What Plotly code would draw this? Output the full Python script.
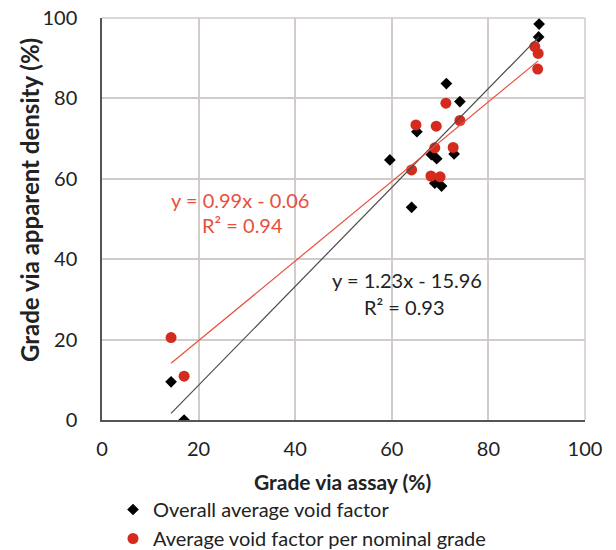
import plotly.graph_objects as go

# Overall average void factor (black diamonds)
black_x = [17.0, 14.3, 90.5, 90.4, 71.3, 74.1, 65.2, 59.6, 68.2, 69.3, 72.9, 68.9, 70.3, 64.1]
black_y = [0.0, 9.5, 98.5, 95.3, 83.7, 79.2, 71.7, 64.7, 66.0, 65.0, 66.2, 58.9, 58.2, 52.9]

# Average void factor per nominal grade (red circles)
red_x = [14.3, 17.0, 89.6, 90.3, 90.2, 71.2, 74.1, 65.0, 69.2, 68.9, 72.7, 64.1, 68.1, 70.0]
red_y = [20.5, 10.9, 92.9, 91.2, 87.3, 78.8, 74.5, 73.4, 73.1, 67.7, 67.8, 62.2, 60.7, 60.5]

# Trendline coefficients (slope, intercept) and spans
black_fit = (1.23, -15.96)
red_fit = (0.99, -0.06)
black_span = [14.3, 90.5]
red_span = [14.3, 90.3]

x_ticks = [0, 20, 40, 60, 80, 100]
y_ticks = [0, 20, 40, 60, 80, 100]

FONT = "Lato"
RED = "#d42b1e"
RED_LINE = "#e8503e"
TXT = "#222222"
GRID = "#d3caca"

# page has an 8px body margin; compensate so the figure lands where the reference is
OFF = 8
W, H = 616 - OFF, 550 - OFF
PL, PR, PT, PB = 102, 585, 18, 420  # plot-area edges in reference pixels
L, T = PL - OFF, PT - OFF
R, B = W - (PR - OFF), H - (PB - OFF)
PW, PH = PR - PL, PB - PT


def px_x(p):
    return (p - PL) / PW


def px_y(p):
    return (PB - p) / PH


fig = go.Figure()

fig.add_trace(go.Scatter(
    x=black_x, y=black_y, mode="markers", name="Overall average void factor",
    marker=dict(symbol="diamond", size=9, color="#000000", line=dict(width=0)),
))
fig.add_trace(go.Scatter(
    x=red_x, y=red_y, mode="markers", name="Average void factor per nominal grade",
    marker=dict(symbol="circle", size=11, color=RED, line=dict(width=0)),
))
fig.add_trace(go.Scatter(
    x=black_span, y=[black_fit[0] * v + black_fit[1] for v in black_span],
    mode="lines", line=dict(color="#4a4a4a", width=1.2), showlegend=False, hoverinfo="skip",
))
fig.add_trace(go.Scatter(
    x=red_span, y=[red_fit[0] * v + red_fit[1] for v in red_span],
    mode="lines", line=dict(color=RED_LINE, width=1.2), showlegend=False, hoverinfo="skip",
))

ann_font = dict(family=FONT, size=20)
fig.add_annotation(x=28.6, y=54.7, text="y = 0.99x - 0.06", showarrow=False,
                   font=dict(ann_font, color=RED_LINE))
fig.add_annotation(x=29.0, y=48.5, text="R² = 0.94", showarrow=False,
                   font=dict(ann_font, color=RED_LINE))
fig.add_annotation(x=63.1, y=34.8, text="y = 1.23x - 15.96", showarrow=False,
                   font=dict(ann_font, color=TXT))
fig.add_annotation(x=62.7, y=28.1, text="R² = 0.93", showarrow=False,
                   font=dict(ann_font, color=TXT))

# axis titles
fig.add_annotation(xref="paper", yref="paper", x=px_x(29), y=px_y(200),
                   xanchor="center", yanchor="middle",
                   text="<b>Grade via apparent density (%)</b>", textangle=-90, showarrow=False,
                   font=dict(family=FONT, size=24, color=TXT))
fig.add_annotation(xref="paper", yref="paper", x=px_x(342), y=px_y(481),
                   xanchor="center", yanchor="middle",
                   text="<b>Grade via assay (%)</b>", showarrow=False,
                   font=dict(family=FONT, size=21, color=TXT))

# top and right frame lines drawn in the grid colour
fig.add_shape(type="line", xref="paper", yref="paper", x0=0, x1=1, y0=1, y1=1,
              line=dict(color=GRID, width=1.5), layer="below")
fig.add_shape(type="line", xref="paper", yref="paper", x0=1, x1=1, y0=0, y1=1,
              line=dict(color=GRID, width=1.5), layer="below")

fig.update_layout(
    width=W, height=H,
    margin=dict(l=L, r=R, t=T, b=B, autoexpand=False),
    paper_bgcolor="white", plot_bgcolor="white",
    font=dict(family=FONT, color=TXT),
    showlegend=True,
    legend=dict(x=px_x(113), y=px_y(490), xanchor="left", yanchor="top",
                font=dict(family=FONT, size=20, color=TXT), bgcolor="rgba(0,0,0,0)",
                tracegroupgap=0),
    xaxis=dict(range=[0, 100], tickvals=x_ticks, ticktext=[str(v) for v in x_ticks],
               showgrid=True, gridcolor=GRID, gridwidth=1.5, automargin=False,
               showline=True, linecolor="#555555", linewidth=1.5, zeroline=False,
               ticklabeloverflow="allow",
               ticks="", ticklabelstandoff=10, tickfont=dict(family=FONT, size=20, color=TXT)),
    yaxis=dict(range=[0, 100], tickvals=y_ticks, ticktext=[str(v) for v in y_ticks],
               showgrid=True, gridcolor=GRID, gridwidth=1.5, automargin=False,
               showline=True, linecolor="#555555", linewidth=1.5, zeroline=False,
               ticklabeloverflow="allow",
               ticks="", ticklabelstandoff=19, tickfont=dict(family=FONT, size=20, color=TXT)),
)

fig.write_html("out.html")
